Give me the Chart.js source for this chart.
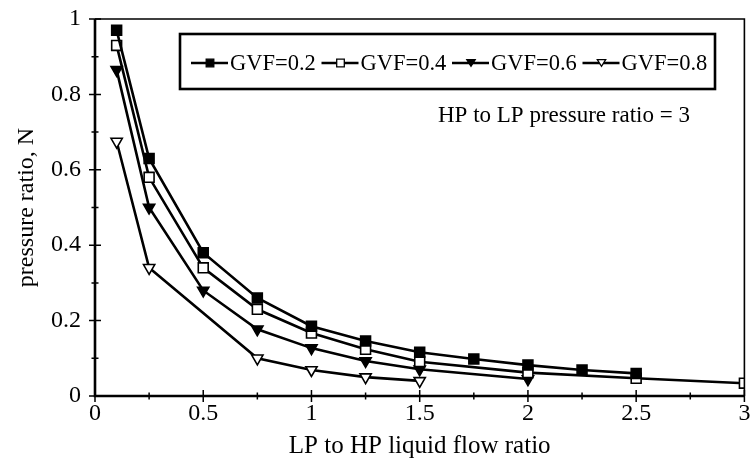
<!DOCTYPE html>
<html>
<head>
<meta charset="utf-8">
<script src="https://cdn.jsdelivr.net/npm/chart.js"></script>
<style>
  html, body { margin: 0; padding: 0; background: #fff; }
  #wrap { width: 753px; height: 472px; }
</style>
</head>
<body>
<div id="wrap"><canvas id="c" width="753" height="472"></canvas></div>
<script>
// ---- data ----
const seriesNames = ['GVF=0.2', 'GVF=0.4', 'GVF=0.6', 'GVF=0.8'];
const gvf02X = [0.1, 0.25, 0.5, 0.75, 1, 1.25, 1.5, 1.75, 2, 2.25, 2.5];
const gvf02Y = [0.97, 0.63, 0.38, 0.26, 0.185, 0.146, 0.116, 0.098, 0.082, 0.069, 0.06];
const gvf04X = [0.1, 0.25, 0.5, 0.75, 1, 1.25, 1.5, 2, 2.5, 3];
const gvf04Y = [0.93, 0.58, 0.34, 0.23, 0.167, 0.124, 0.091, 0.062, 0.047, 0.034];
const gvf06X = [0.1, 0.25, 0.5, 0.75, 1, 1.25, 1.5, 2];
const gvf06Y = [0.865, 0.50, 0.28, 0.177, 0.127, 0.093, 0.071, 0.045];
const gvf08X = [0.1, 0.25, 0.75, 1, 1.25, 1.5];
const gvf08Y = [0.675, 0.34, 0.10, 0.069, 0.05, 0.04];
const xTickValues = [0, 0.5, 1, 1.5, 2, 2.5, 3];
const yTickValues = [0, 0.2, 0.4, 0.6, 0.8, 1];
const xTitle = 'LP to HP liquid flow ratio';
const yTitle = 'pressure ratio, N';
const noteText = 'HP to LP pressure ratio = 3';

const FONT = 'Liberation Serif';
const toPts = (xs, ys) => xs.map((x, i) => ({ x: x, y: ys[i] }));

const markerStyles = [
  { pointStyle: 'rect', fill: '#000', rotation: 0, r: 7 },
  { pointStyle: 'rect', fill: '#fff', rotation: 0, r: 7 },
  { pointStyle: 'triangle', fill: '#000', rotation: 180, r: 6.5 },
  { pointStyle: 'triangle', fill: '#fff', rotation: 180, r: 6.5 }
];
const allX = [gvf02X, gvf04X, gvf06X, gvf08X];
const allY = [gvf02Y, gvf04Y, gvf06Y, gvf08Y];

const datasets = seriesNames.map((name, i) => ({
  label: name,
  data: toPts(allX[i], allY[i]),
  borderColor: '#000',
  borderWidth: 2.6,
  backgroundColor: markerStyles[i].fill,
  pointStyle: markerStyles[i].pointStyle,
  pointRotation: markerStyles[i].rotation,
  pointRadius: markerStyles[i].r,
  pointBorderWidth: 1.6,
  pointBorderColor: '#000',
  pointBackgroundColor: markerStyles[i].fill,
  tension: 0,
  fill: false
}));

function drawMarker(ctx, style, x, y, r) {
  ctx.save();
  ctx.beginPath();
  if (style.pointStyle === 'rect') {
    ctx.rect(x - r, y - r, 2 * r, 2 * r);
  } else {
    const h = r * 1.6;
    ctx.moveTo(x - r, y - h / 2);
    ctx.lineTo(x + r, y - h / 2);
    ctx.lineTo(x, y + h / 2);
    ctx.closePath();
  }
  ctx.fillStyle = style.fill;
  ctx.fill();
  ctx.lineWidth = 1.3;
  ctx.strokeStyle = '#000';
  ctx.stroke();
  ctx.restore();
}

const decorPlugin = {
  id: 'decor',
  afterDraw(chart) {
    const ctx = chart.ctx;
    const a = chart.chartArea;
    const xs = chart.scales.x, ys = chart.scales.y;
    ctx.save();
    ctx.strokeStyle = '#000';
    ctx.lineWidth = 1.6;
    ctx.beginPath();
    ctx.moveTo(a.left, a.top); ctx.lineTo(a.right, a.top); ctx.lineTo(a.right, a.bottom);
    ctx.stroke();
    ctx.lineWidth = 2.6;
    ctx.beginPath();
    ctx.moveTo(a.left, a.top); ctx.lineTo(a.left, a.bottom); ctx.lineTo(a.right, a.bottom);
    ctx.stroke();
    ctx.lineWidth = 1.5;
    ctx.beginPath();
    for (let v = 0; v <= 3.0001; v += 0.25) {
      const px = xs.getPixelForValue(v);
      const major = Math.abs(v * 2 - Math.round(v * 2)) < 1e-6;
      const L = major ? 6 : 3.5;
      ctx.moveTo(px, a.bottom - L); ctx.lineTo(px, a.bottom + L);
    }
    for (let v = 0; v <= 1.0001; v += 0.1) {
      const py = ys.getPixelForValue(v);
      const major = Math.abs(v * 5 - Math.round(v * 5)) < 1e-6;
      const L = major ? 6 : 3.5;
      ctx.moveTo(a.left - L, py); ctx.lineTo(a.left + L, py);
    }
    ctx.stroke();

    // legend box
    const bx = 180, by = 34, bw = 535, bh = 55;
    ctx.fillStyle = '#fff';
    ctx.fillRect(bx, by, bw, bh);
    ctx.lineWidth = 2.6;
    ctx.strokeRect(bx, by, bw, bh);
    ctx.font = '22.5px "' + FONT + '"';
    ctx.fillStyle = '#000';
    ctx.textBaseline = 'middle';
    ctx.textAlign = 'left';
    const ly = 63;
    seriesNames.forEach((name, i) => {
      const x0 = 191 + 130.5 * i;
      ctx.lineWidth = 2.4;
      ctx.beginPath();
      ctx.moveTo(x0, ly); ctx.lineTo(x0 + 37, ly);
      ctx.stroke();
      drawMarker(ctx, markerStyles[i], x0 + 19, ly, markerStyles[i].pointStyle === 'rect' ? 3.8 : 4.2);
      ctx.fillStyle = '#000';
      ctx.fillText(name, x0 + 39, ly + 1);
    });

    ctx.font = '23px "' + FONT + '"';
    ctx.fillText(noteText, 438, 116);
    ctx.restore();
  }
};

new Chart(document.getElementById('c'), {
  type: 'line',
  data: { datasets: datasets },
  options: {
    responsive: false,
    animation: false,
    devicePixelRatio: 1,
    layout: { padding: { left: 0, right: 7, top: 19, bottom: 0 } },
    plugins: { legend: { display: false }, tooltip: { enabled: false } },
    scales: {
      x: {
        type: 'linear',
        min: 0, max: 3,
        grid: { display: false, drawTicks: false },
        border: { display: false },
        afterBuildTicks: (s) => { s.ticks = xTickValues.map(v => ({ value: v })); },
        afterFit: (s) => { s.height = 76; s.paddingLeft = 0; s.paddingRight = 0; },
        ticks: {
          color: '#000',
          padding: 3,
          maxRotation: 0,
          font: { family: FONT, size: 24 },
          callback: (v) => String(v)
        },
        title: {
          display: true,
          text: xTitle,
          color: '#000',
          font: { family: FONT, size: 25 },
          padding: { top: 0, bottom: 11 }
        }
      },
      y: {
        type: 'linear',
        min: 0, max: 1,
        grid: { display: false, drawTicks: false },
        border: { display: false },
        afterBuildTicks: (s) => { s.ticks = yTickValues.map(v => ({ value: v })); },
        afterFit: (s) => { s.width = 95; s.paddingTop = 0; s.paddingBottom = 0; },
        ticks: {
          color: '#000',
          padding: 14,
          font: { family: FONT, size: 24 },
          callback: (v) => String(v)
        },
        title: {
          display: true,
          text: yTitle,
          color: '#000',
          font: { family: FONT, size: 24 },
          padding: { top: 12, bottom: 0 }
        }
      }
    }
  },
  plugins: [decorPlugin]
});
</script>
</body>
</html>
